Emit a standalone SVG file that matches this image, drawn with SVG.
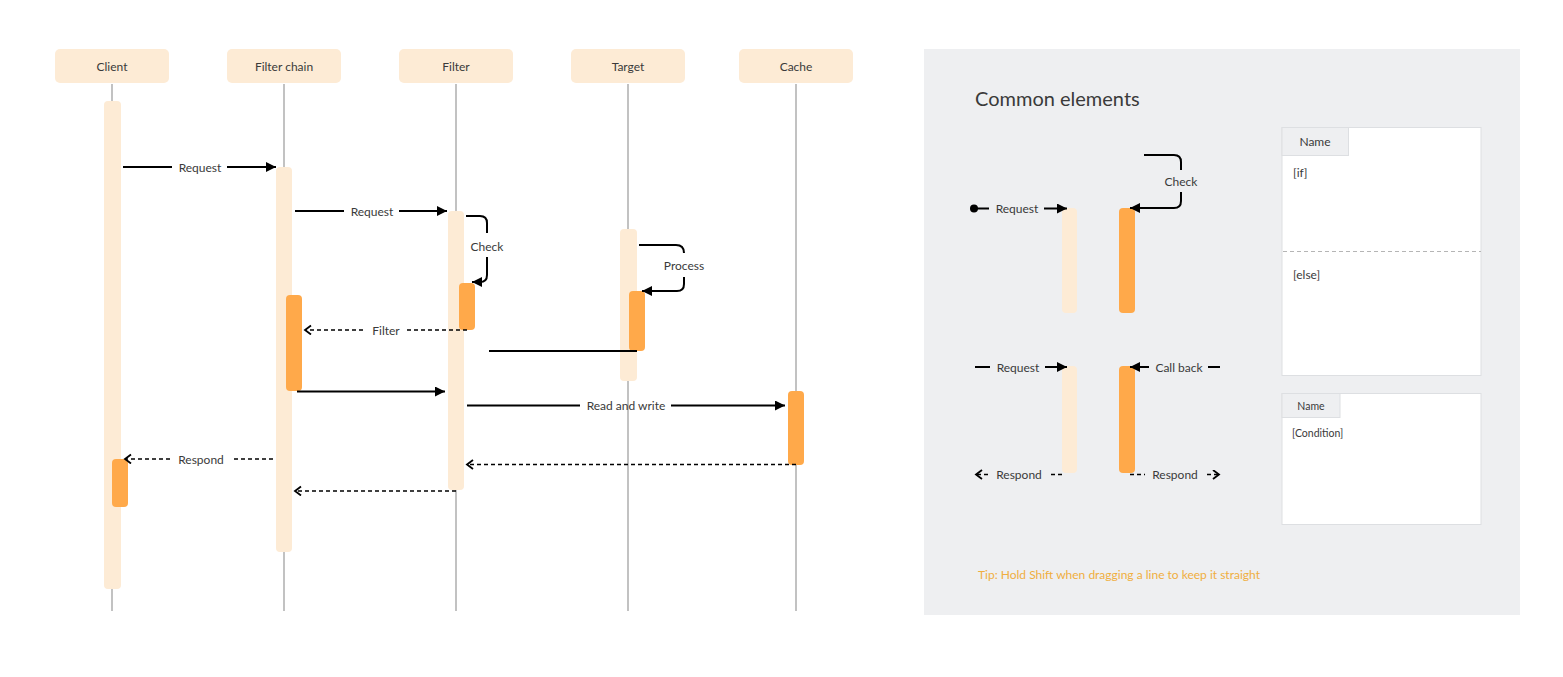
<svg xmlns="http://www.w3.org/2000/svg" width="1563" height="677" viewBox="0 0 1563 677">
<defs>
<style>
text{font-family:"Lato","Noto Sans","Liberation Sans",sans-serif;fill:#3a3a3a;font-size:12px}
.hdr{fill:#FDEBD5}
.life{stroke:#C2C2C2;stroke-width:2}
.act{fill:#FDEBD5}
.actd{fill:#FFA94A}
.sol{stroke:#000;stroke-width:2;fill:none}
.dsh{stroke:#000;stroke-width:1.6;fill:none;stroke-dasharray:4 3}
.c{text-anchor:middle}
.frame{fill:#fff;stroke:#DDDFE2;stroke-width:1}
.tab{fill:#EEEFF1;stroke:#DDDFE2;stroke-width:1}
</style>
<marker id="arr" markerUnits="userSpaceOnUse" markerWidth="11" markerHeight="10" refX="10" refY="5" orient="auto">
<path d="M0,0 L10,5 L0,10 z" fill="#000"/>
</marker>
<marker id="open" markerUnits="userSpaceOnUse" markerWidth="10" markerHeight="12" refX="7" refY="5" orient="auto">
<path d="M1,0.5 L7,5 L1,9.5" fill="none" stroke="#000" stroke-width="1.8"/>
</marker>
<marker id="dot" markerUnits="userSpaceOnUse" markerWidth="10" markerHeight="10" refX="5" refY="5" orient="auto">
<circle cx="5" cy="5" r="4" fill="#000"/>
</marker>
</defs>
<rect width="1563" height="677" fill="#fff"/>

<g id="lifelines">
<line class="life" x1="112" y1="84" x2="112" y2="611"/>
<line class="life" x1="284" y1="84" x2="284" y2="611"/>
<line class="life" x1="456" y1="84" x2="456" y2="611"/>
<line class="life" x1="628" y1="84" x2="628" y2="611"/>
<line class="life" x1="796" y1="84" x2="796" y2="611"/>
</g>

<g id="client"><rect class="hdr" x="55" y="49" width="114" height="34" rx="5"/><text class="c" x="112" y="71">Client</text></g>
<g id="filterchain"><rect class="hdr" x="227" y="49" width="114" height="34" rx="5"/><text class="c" x="284" y="71">Filter chain</text></g>
<g id="filter"><rect class="hdr" x="399" y="49" width="114" height="34" rx="5"/><text class="c" x="456" y="71">Filter</text></g>
<g id="target"><rect class="hdr" x="571" y="49" width="114" height="34" rx="5"/><text class="c" x="628" y="71">Target</text></g>
<g id="cache"><rect class="hdr" x="739" y="49" width="114" height="34" rx="5"/><text class="c" x="796" y="71">Cache</text></g>

<g id="activations">
<rect class="act" x="104" y="101" width="17" height="488" rx="4"/>
<rect class="act" x="276" y="167" width="16" height="385" rx="4"/>
<rect class="act" x="448" y="211" width="16" height="279" rx="4"/>
<rect class="act" x="620" y="229" width="17" height="152" rx="4"/>
<rect class="actd" x="286" y="295" width="16" height="96" rx="4"/>
<rect class="actd" x="459" y="283" width="16" height="47" rx="4"/>
<rect class="actd" x="629" y="291" width="16" height="60" rx="4"/>
<rect class="actd" x="788" y="391" width="16" height="74" rx="4"/>
<rect class="actd" x="112" y="459" width="16" height="48" rx="4"/>
</g>

<g id="connectors">
<line class="sol" x1="123" y1="167" x2="172" y2="167"/>
<line class="sol" x1="227" y1="167" x2="276" y2="167" marker-end="url(#arr)"/>
<text class="c" x="200" y="171.5">Request</text>

<line class="sol" x1="295" y1="211" x2="344" y2="211"/>
<line class="sol" x1="399" y1="211" x2="447" y2="211" marker-end="url(#arr)"/>
<text class="c" x="372" y="215.5">Request</text>

<path class="sol" d="M466,216 H480 Q487,216 487,223 V233"/>
<text class="c" x="487" y="250.5">Check</text>
<path class="sol" d="M487,257 V275 Q487,282 480,282 H472" marker-end="url(#arr)"/>

<path class="sol" d="M639,245 H676 Q684,245 684,253"/>
<text class="c" x="684" y="269.5">Process</text>
<path class="sol" d="M684,277 V284 Q684,291 677,291 H642" marker-end="url(#arr)"/>

<line class="dsh" x1="467" y1="330" x2="406" y2="330"/>
<line class="dsh" x1="363" y1="330" x2="305" y2="330" marker-end="url(#open)"/>
<text class="c" x="386" y="334.5">Filter</text>

<line class="sol" x1="489" y1="351" x2="637" y2="351"/>

<line class="sol" x1="297" y1="391.5" x2="445" y2="391.5" marker-end="url(#arr)"/>

<line class="sol" x1="467" y1="405.5" x2="580" y2="405.5"/>
<line class="sol" x1="671" y1="405.5" x2="785" y2="405.5" marker-end="url(#arr)"/>
<text class="c" x="626" y="410">Read and write</text>

<line class="dsh" x1="796" y1="464.5" x2="467" y2="464.5" marker-end="url(#open)"/>

<line class="dsh" x1="273" y1="459" x2="231" y2="459"/>
<line class="dsh" x1="170" y1="459" x2="125" y2="459" marker-end="url(#open)"/>
<text class="c" x="201" y="463.5">Respond</text>

<line class="dsh" x1="456" y1="491" x2="295" y2="491" marker-end="url(#open)"/>
</g>

<g id="legend">
<rect x="924" y="49" width="596" height="566" fill="#EEEFF1"/>
<text x="975" y="106" style="font-size:20px">Common elements</text>

<rect class="act" x="1062" y="208" width="15" height="105" rx="4"/>
<rect class="actd" x="1119" y="208" width="16" height="105" rx="4"/>
<line class="sol" x1="974" y1="208.5" x2="989" y2="208.5" marker-start="url(#dot)"/>
<line class="sol" x1="1044" y1="208.5" x2="1067" y2="208.5" marker-end="url(#arr)"/>
<text class="c" x="1017" y="213">Request</text>
<path class="sol" d="M1144,155 H1174 Q1181,155 1181,162 V170"/>
<text class="c" x="1181" y="186">Check</text>
<path class="sol" d="M1181,192 V201 Q1181,208 1174,208 H1130" marker-end="url(#arr)"/>

<rect class="act" x="1062" y="366" width="15" height="107" rx="4"/>
<rect class="actd" x="1119" y="366" width="16" height="107" rx="4"/>
<line class="sol" x1="975" y1="367" x2="990" y2="367"/>
<line class="sol" x1="1045" y1="367" x2="1067" y2="367" marker-end="url(#arr)"/>
<text class="c" x="1018" y="371.5">Request</text>
<line class="sol" x1="1149" y1="367" x2="1130" y2="367" marker-end="url(#arr)"/>
<line class="sol" x1="1208" y1="367" x2="1220" y2="367"/>
<text class="c" x="1179" y="371.5">Call back</text>

<line class="dsh" x1="1062" y1="474.5" x2="1048" y2="474.5"/>
<line class="dsh" x1="988" y1="474.5" x2="976" y2="474.5" marker-end="url(#open)"/>
<text class="c" x="1019" y="479">Respond</text>
<line class="dsh" x1="1130" y1="474.5" x2="1145" y2="474.5"/>
<line class="dsh" x1="1207" y1="474.5" x2="1219" y2="474.5" marker-end="url(#open)"/>
<text class="c" x="1175" y="479">Respond</text>

<g id="alt">
<rect class="frame" x="1282" y="127.5" width="199" height="248"/>
<rect class="tab" x="1282" y="127.5" width="66.5" height="28"/>
<text class="c" x="1315" y="146">Name</text>
<text x="1293" y="177">[if]</text>
<line x1="1283" y1="251.5" x2="1481" y2="251.5" stroke="#B5B5B5" stroke-width="1.2" stroke-dasharray="4 3"/>
<text x="1293" y="279">[else]</text>
</g>
<g id="opt">
<rect class="frame" x="1282" y="393.5" width="199" height="131"/>
<rect class="tab" x="1282" y="393.5" width="58" height="24"/>
<text class="c" x="1311" y="410" style="font-size:10.5px">Name</text>
<text x="1292" y="437" style="font-size:10.5px">[Condition]</text>
</g>
<text x="978" y="579" style="fill:#F0AE3E">Tip: Hold Shift when dragging a line to keep it straight</text>
</g>
</svg>
